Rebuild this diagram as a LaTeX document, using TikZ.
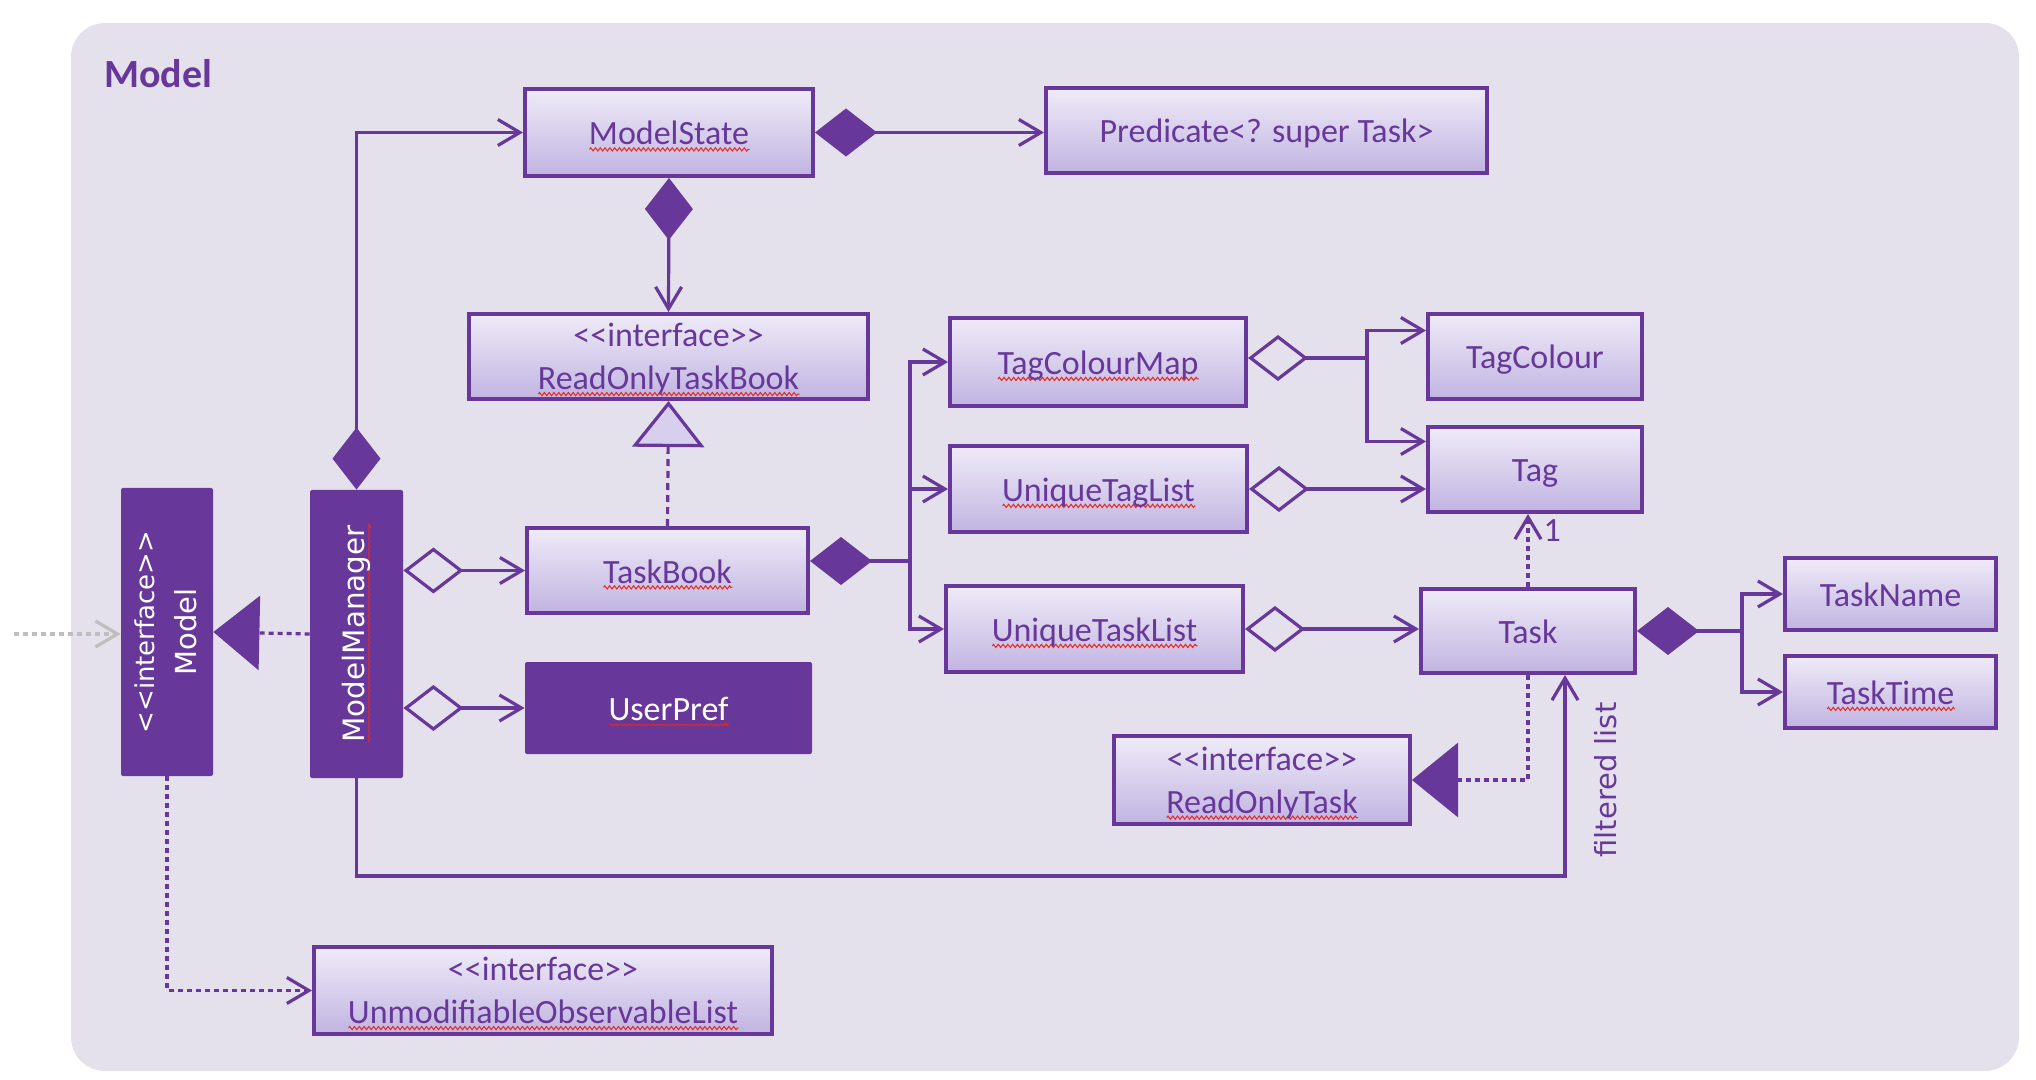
\documentclass[tikz,border=0pt]{standalone}
\usepackage{fontspec}
\usepackage{xcolor}
\usepackage{graphicx}
\usepackage{tikz}
\usetikzlibrary{shapes.geometric, arrows.meta, decorations.pathmorphing}
\setmainfont{Carlito}
\newfontfamily\vsans{DejaVu Sans}

\definecolor{umlpurple}{RGB}{103,56,153}
\definecolor{modelbg}{RGB}{228,224,236}
\definecolor{boxtop}{RGB}{239,235,248}
\definecolor{boxbot}{RGB}{193,180,225}
\definecolor{trifill}{RGB}{216,206,237}
\definecolor{extgray}{RGB}{190,190,190}
\definecolor{wavered}{RGB}{230,40,30}

% red wave under a word
\newcommand\spellwave[1]{\setbox0\hbox{#1}\leavevmode\rlap{\smash{\tikz[baseline=0pt]\draw[wavered, line width=0.5pt, decorate, decoration={zigzag, segment length=2.4pt, amplitude=0.8pt}] (0pt,-2.2pt) -- (\the\wd0,-2.2pt);}}\box0}
\newcommand\stereo[1]{<\kern0pt<#1>\kern0pt>}

\tikzstyle{clsbase} = [draw=umlpurple, line width=2.2pt, top color=boxtop, bottom color=boxbot, text=umlpurple, font=\fontsize{17}{21.5}\selectfont, align=center, inner sep=0pt]
\tikzstyle{cls} = [clsbase, text height=12.5pt, text depth=0pt]
\tikzstyle{icls} = [clsbase]
\tikzstyle{darkcls} = [fill=umlpurple, text=white, rounded corners=1pt, inner sep=0pt, font=\fontsize{17}{21.5}\selectfont]
\tikzstyle{link} = [umlpurple, line width=1.6pt]
\tikzstyle{dotlink} = [link, dash pattern=on 2.5pt off 2pt]
\tikzstyle{dashlink} = [link, dash pattern=on 3.5pt off 2.5pt]
\tikzset{
  >={Straight Barb[length=11pt,width=13pt]},
  fd/.tip={Diamond[length=31pt,width=24pt]},
  od/.tip={Diamond[fill=modelbg,length=30pt,width=23pt]},
  ftri/.tip={Triangle[length=23pt,width=37pt]},
  otri/.tip={Triangle[fill=trifill,length=23pt,width=36pt]}
}

\begin{document}
\begin{tikzpicture}[x=0.5pt,y=-0.5pt]
  \useasboundingbox (0,0) rectangle (2036,1080);

  % Background
  \fill[modelbg, rounded corners=17pt] (71,23) rectangle (2019,1071);
  \node[anchor=west, inner sep=0pt, text=umlpurple, font=\bfseries\fontsize{20}{24}\selectfont] (title) at (104,74) {Model};

  % Classes
  \node[cls, minimum width=143.8pt, minimum height=43.3pt] (ms) at (669,132.5) {\spellwave{ModelState}};
  \node[cls, minimum width=220.3pt, minimum height=42.3pt] (pred) at (1266.5,130.5) {Predicate<? super Task>};
  \node[icls, minimum width=199.3pt, minimum height=42.3pt] (rotb) at (668.5,356.5) {\stereo{interface}\\\smash{\spellwave{ReadOnlyTaskBook}}};
  \node[cls, minimum width=140.3pt, minimum height=42.3pt] (tb) at (667.5,570.5) {\spellwave{TaskBook}};
  \node[darkcls, text height=12.5pt, text depth=0pt, minimum width=143.5pt, minimum height=46pt] (up) at (668.5,708) {\spellwave{UserPref}};
  \node[darkcls, minimum width=46pt, minimum height=144pt] (model) at (167,632) {\rotatebox{90}{\vsans\fontsize{14.5}{21}\selectfont\begin{tabular}{@{}c@{}}{\fontsize{13}{21}\selectfont\stereo{interface}}\\Model\end{tabular}}};
  \node[darkcls, minimum width=46.5pt, minimum height=144pt] (mm) at (356.5,634) {\rotatebox{90}{\vsans\fontsize{14.7}{18}\selectfont\spellwave{ModelManager}}};
  \node[cls, minimum width=147.8pt, minimum height=43.8pt] (tcm) at (1098,362) {\spellwave{TagColourMap}};
  \node[cls, minimum width=148.3pt, minimum height=42.8pt] (utl) at (1098.5,489) {\spellwave{UniqueTagList}};
  \node[cls, minimum width=148.3pt, minimum height=42.8pt] (utkl) at (1094.5,629) {\spellwave{UniqueTaskList}};
  \node[cls, minimum width=106.8pt, minimum height=42.3pt] (tc) at (1535,356.5) {TagColour};
  \node[cls, minimum width=106.8pt, minimum height=42.3pt] (tag) at (1535,469.5) {Tag};
  \node[cls, minimum width=106.8pt, minimum height=41.8pt] (task) at (1528,631) {Task};
  \node[cls, minimum width=105.3pt, minimum height=35.8pt] (tn) at (1890.5,594) {TaskName};
  \node[cls, minimum width=105.3pt, minimum height=35.8pt] (tt) at (1890.5,692) {\spellwave{TaskTime}};
  \node[icls, minimum width=147.8pt, minimum height=43.8pt] (rot) at (1262,780) {\stereo{interface}\\\smash{\spellwave{ReadOnlyTask}}};
  \node[icls, minimum width=228.8pt, minimum height=43.3pt] (uol) at (543,990.5) {\stereo{interface}\\\smash{\spellwave{UnmodifiableObservableList}}};

  % ModelManager links
  \draw[link, fd->] (mm.north) |- (ms.west);
  \draw[link, od->] (mm.east |- tb.west) -- (tb.west);
  \draw[link, od->] (mm.east |- up.west) -- (up.west);
  \draw[dotlink, -ftri] (mm.west) -- (model.east);
  \coordinate (flt) at (1565,876);
  \draw[link, ->] (mm.south) |- (flt) -- (flt |- task.south);
  \node[rotate=90, inner sep=0pt, text=umlpurple, font=\vsans\fontsize{14.5}{17}\selectfont] (fltlbl) at (1606,780) {filtered list};

  % ModelState links
  \draw[link, fd->] (ms.east) -- (ms.east -| pred.west);
  \draw[link, fd->] (ms.south) -- (rotb.north);
  \draw[dashlink, -otri] (tb.north) -- (rotb.south);

  % Model links
  \coordinate (ext) at (14,634);
  \draw[dotlink, extgray, ->] (ext) -- (ext -| model.west);
  \draw[dotlink, ->] (model.south) |- (uol.west);

  % TaskBook links
  \coordinate (tbj) at (910,561);
  \draw[link, fd-] (tb.east |- tbj) -- (tbj);
  \draw[link, ->] (tbj) |- (tcm.west);
  \draw[link, ->] (tbj) |- (utl.west);
  \draw[link, ->] (tbj) |- (utkl.west);

  % tag links
  \coordinate (tcj) at (1367,358);
  \draw[link, od-] (tcm.east |- tcj) -- (tcj);
  \draw[link, ->] (tcj) |- ([yshift=13pt]tc.west);
  \draw[link, ->] (tcj) |- ([yshift=14pt]tag.west);
  \draw[link, od->] (utl.east) -- (utl.east -| tag.west);

  % Task links
  \draw[link, od->] (utkl.east) -- (utkl.east -| task.west);
  \coordinate (tj) at (1742,631);
  \draw[link, fd-] (task.east) -- (tj);
  \draw[link, ->] (tj) |- (tn.west);
  \draw[link, ->] (tj) |- (tt.west);
  \draw[dotlink, ->] (task.north) -- (task.north |- tag.south) node (one) [anchor=north west, xshift=7pt, yshift=-2pt, inner sep=0pt, text=umlpurple, font=\fontsize{17}{21}\selectfont] {1};
  \draw[dotlink, -ftri] (task.south) |- (rot.east);

\end{tikzpicture}
\end{document}
